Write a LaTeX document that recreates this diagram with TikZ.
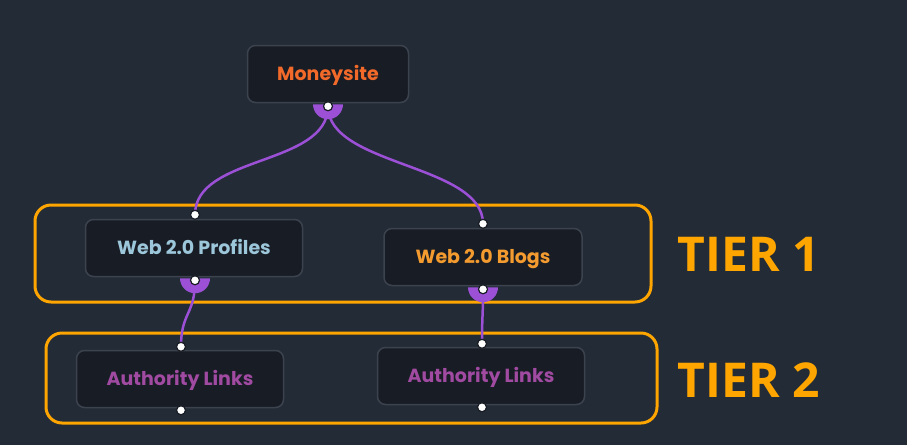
\documentclass[tikz,border=0pt]{standalone}
\usepackage{fontspec}
\setmainfont{Poppins}
\newfontfamily\tierfont{Open Sans}
\usetikzlibrary{positioning,calc}
\definecolor{bgc}{RGB}{34,43,54}
\definecolor{boxc}{RGB}{24,28,36}
\definecolor{edgec}{RGB}{60,67,78}
\definecolor{wire}{RGB}{155,80,214}
\definecolor{tierc}{RGB}{255,165,0}
\definecolor{moneyc}{RGB}{242,106,42}
\definecolor{profc}{RGB}{156,198,218}
\definecolor{blogc}{RGB}{244,155,48}
\definecolor{authc}{RGB}{160,74,162}

\begin{document}
\begin{tikzpicture}[x=1pt,y=-1pt,font=\bfseries\fontsize{19}{22}\selectfont,
  nd/.style={draw=edgec,fill=boxc,line width=1.5pt,rounded corners=8pt,minimum height=57pt,inner sep=0pt,text height=14pt,text depth=2pt},
  tier/.style={draw=tierc,line width=3pt,rounded corners=16pt},
  tiertxt/.style={text=tierc,font=\tierfont\bfseries\fontsize{48}{48}\selectfont},
  wr/.style={draw=wire,line width=2.5pt},
  port/.style={circle,draw=boxc,fill=white,line width=1.2pt,minimum size=9pt,inner sep=0pt},
  cup/.style={fill=wire}]
\fill[bgc] (0,0) rectangle (907,445);
% tier frames
\draw[tier] (35,205) rectangle (651,302);
\draw[tier] (46,333) rectangle (657,423);
\node[tiertxt] (t1) at (749,254) {TIER 1};
\node[tiertxt] (t2) at (749,380) {TIER 2};
% nodes
\node[nd,minimum width=161pt,text=moneyc] (ms) at (328,74) {Moneysite};
\node[nd,minimum width=217pt,text=profc] (pr) at (194,248) {Web 2.0 Profiles};
\node[nd,minimum width=198pt,text=blogc] (bl) at (483,257) {Web 2.0 Blogs};
\node[nd,minimum width=207pt,text=authc] (a1) at (180,379) {Authority Links};
\node[nd,minimum width=207pt,text=authc] (a2) at (481,376) {Authority Links};
% ports
\coordinate (ms-out) at ([yshift=-3pt]ms.south);
\coordinate (pr-in) at ([xshift=1pt,yshift=4pt]pr.north);
\coordinate (pr-out) at ([xshift=1pt,yshift=-3pt]pr.south);
\coordinate (bl-in) at ([yshift=4pt]bl.north);
\coordinate (bl-out) at ([yshift=-3pt]bl.south);
\coordinate (a1-in) at ([xshift=1pt,yshift=3pt]a1.north);
\coordinate (a1-out) at ([xshift=1pt,yshift=-2pt]a1.south);
\coordinate (a2-in) at ([xshift=1pt,yshift=3pt]a2.north);
\coordinate (a2-out) at ([xshift=1pt,yshift=-2pt]a2.south);
% links
\draw[wr] (ms-out) .. controls +(0,60) and +(0,-60) .. (pr-in);
\draw[wr] (ms-out) .. controls +(0,60) and +(0,-60) .. (bl-in);
\draw[wr] (pr-out) .. controls +(0,35) and +(0,-35) .. (a1-in);
\draw[wr] (bl-out) .. controls +(0,30) and +(0,-30) .. (a2-in);
% cups
\foreach \p in {ms,pr,bl}
  \fill[cup] ($(\p-out)+(-15,-2)$) arc[start angle=180,end angle=0,radius=15] -- cycle;
\foreach \p in {ms,pr,bl,a1,a2}
  \node[port] at (\p-out) {};
\foreach \p in {pr,bl,a1,a2}
  \node[port] at (\p-in) {};
\end{tikzpicture}
\end{document}
